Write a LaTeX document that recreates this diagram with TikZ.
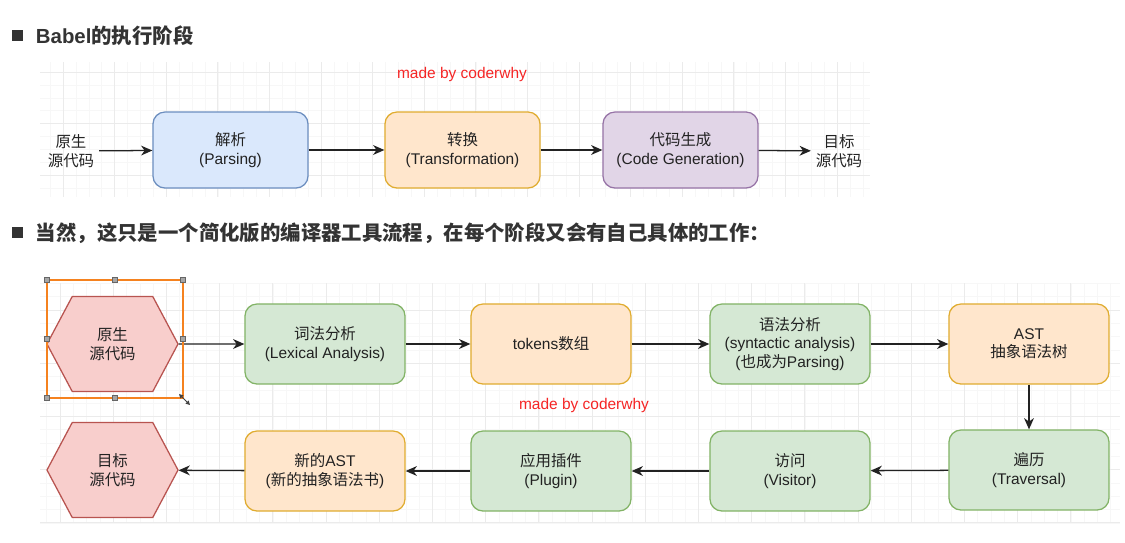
\documentclass[tikz,border=0pt]{standalone}
\usepackage{fontspec}
\setmainfont{Liberation Sans}
\newfontfamily\cjk{Noto Sans CJK SC}
\usetikzlibrary{arrows.meta, shapes.symbols, calc}
\definecolor{bluefill}{HTML}{DAE8FC}
\definecolor{bluedraw}{HTML}{6C8EBF}
\definecolor{orangefill}{HTML}{FFE6CC}
\definecolor{orangedraw}{HTML}{E0AC30}
\definecolor{purplefill}{HTML}{E1D5E7}
\definecolor{purpledraw}{HTML}{9673A6}
\definecolor{greenfill}{HTML}{D5E8D4}
\definecolor{greendraw}{HTML}{82B366}
\definecolor{hexfill}{HTML}{F8CECC}
\definecolor{hexdraw}{HTML}{B85450}
\definecolor{titlegray}{HTML}{333333}
\definecolor{textgray}{HTML}{222222}
\definecolor{madered}{HTML}{F52525}
\definecolor{selorange}{HTML}{F5821F}

\begin{document}
\begin{tikzpicture}[
    x=0.025cm, y=-0.025cm,
    stage/.style={rectangle, draw=#1draw, fill=#1fill, line width=0.9pt,
                  rounded corners=0.3cm, minimum width=4cm, minimum height=2cm,
                  align=center, font=\fontsize{11}{13}\selectfont, text=textgray},
    stage/.default=green,
    hexnode/.style={signal, signal to=east and west, signal pointer angle=124,
                    draw=hexdraw, fill=hexfill, line width=0.9pt, inner sep=0pt,
                    minimum width=3.275cm, minimum height=2.375cm, align=center,
                    font=\cjk\fontsize{11}{13}\selectfont, text=textgray},
    plain/.style={align=center, font=\cjk\fontsize{11}{13}\selectfont, text=textgray},
    title/.style={anchor=west, font=\bfseries\fontsize{14.5}{17}\selectfont, text=titlegray},
    madeby/.style={font=\fontsize{11}{13}\selectfont, text=madered},
    arrow/.style={-{Stealth[length=8pt, width=7pt, inset=2.5pt]}, line width=0.9pt, draw=textgray},
    gridmajor/.style={draw=black!8, line width=0.5pt},
    gridminor/.style={draw=black!3, line width=0.4pt},
    handle/.style={draw=black!60, fill=black!35, line width=0.4pt}
]
\useasboundingbox (0,0) rectangle (1125,542);

% Background grids
\begin{scope}
  \clip (40,62) rectangle (870,197);
  \foreach \i in {0,...,68} {
    \draw[gridminor] (37.2+12.9*\i,62) -- (37.2+12.9*\i,197);
  }
  \foreach \i in {0,...,11} {
    \draw[gridminor] (40,59.1+12.9*\i) -- (870,59.1+12.9*\i);
  }
  \foreach \i in {0,...,16} {
    \draw[gridmajor] (11.4+51.6*\i,62) -- (11.4+51.6*\i,197);
  }
  \foreach \i in {0,...,3} {
    \draw[gridmajor] (40,20.5+51.5*\i) -- (870,20.5+51.5*\i);
  }
\end{scope}
\begin{scope}
  \clip (40,283) rectangle (1120,523);
  \foreach \i in {0,...,84} {
    \draw[gridminor] (33.4+13.3*\i,283) -- (33.4+13.3*\i,523);
  }
  \foreach \i in {0,...,19} {
    \draw[gridminor] (40,270.1+13.3*\i) -- (1120,270.1+13.3*\i);
  }
  \foreach \i in {0,...,20} {
    \draw[gridmajor] (60+53.2*\i,283) -- (60+53.2*\i,523);
  }
  \foreach \i in {0,...,4} {
    \draw[gridmajor] (40,310+53.2*\i) -- (1120,310+53.2*\i);
  }
\end{scope}

% Titles
\fill[titlegray] (12,30) rectangle (23,41);
\node[title] (title1) at (31,36) {Babel{\cjk 的执行阶段}};
\fill[titlegray] (12,227) rectangle (23,238);
\node[title] (title2) at (31,233) {\cjk 当然，这只是一个简化版的编译器工具流程，在每个阶段又会有自己具体的工作：};

% Babel stages
\node[madeby] (made1) at (462,74) {made by coderwhy};
\node[plain] (orig) at (71,151) {原生\\源代码};
\node[stage=blue, minimum width=3.875cm, minimum height=1.9cm] (parse) at (230.5,150)
    {{\cjk 解析}\\(Parsing)};
\node[stage=orange, minimum width=3.875cm, minimum height=1.9cm] (trans) at (462.5,150)
    {{\cjk 转换}\\(Transformation)};
\node[stage=purple, minimum width=3.875cm, minimum height=1.9cm] (codegen) at (680.5,150)
    {{\cjk 代码生成}\\(Code Generation)};
\node[plain] (target) at (839,151) {目标\\源代码};

\draw[arrow] (orig) -- (parse);
\draw[arrow] (parse) -- (trans);
\draw[arrow] (trans) -- (codegen);
\draw[arrow] (codegen) -- (target);

% Compiler pipeline, first row
\node[hexnode] (src) at (112.5,344) {原生\\源代码};
\node[stage] (lex) at (325,344) {{\cjk 词法分析}\\(Lexical Analysis)};
\node[stage=orange] (tokens) at (551,344) {tokens{\cjk 数组}};
\node[stage] (syntax) at (790,344)
    {{\cjk 语法分析}\\(syntactic analysis)\\({\cjk 也成为}Parsing)};
\node[stage=orange] (ast) at (1029,344) {AST\\{\cjk 抽象语法树}};

% second row
\node[stage] (trav) at (1029,470) {{\cjk 遍历}\\(Traversal)};
\node[stage] (visit) at (790,471) {{\cjk 访问}\\(Visitor)};
\node[stage] (plugin) at (551,471) {{\cjk 应用插件}\\(Plugin)};
\node[stage=orange] (newast) at (325,471) {{\cjk 新的}AST\\({\cjk 新的抽象语法书})};
\node[hexnode] (dst) at (112.5,470) {目标\\源代码};
\node[madeby] (made2) at (584,405) {made by coderwhy};

\draw[arrow] (src) -- (lex);
\draw[arrow] (lex) -- (tokens);
\draw[arrow] (tokens) -- (syntax);
\draw[arrow] (syntax) -- (ast);
\draw[arrow] (ast) -- (trav);
\draw[arrow] (trav) -- (visit);
\draw[arrow] (visit) -- (plugin);
\draw[arrow] (plugin) -- (newast);
\draw[arrow] (newast) -- (dst);

% selection frame round the first hexagon
\draw[selorange, line width=1.4pt] (47,280) rectangle (183,398);
\foreach \hx/\hy in {47/280, 115/280, 183/280, 47/339, 183/339, 47/398, 115/398} {
  \draw[handle] (\hx-2.5,\hy-2.5) rectangle (\hx+2.5,\hy+2.5);
}
\draw[black!75, line width=0.7pt, {Triangle[length=3pt, width=3pt]}-{Triangle[length=3pt, width=3pt]}] (179,394) -- (190,405);
\end{tikzpicture}
\end{document}
